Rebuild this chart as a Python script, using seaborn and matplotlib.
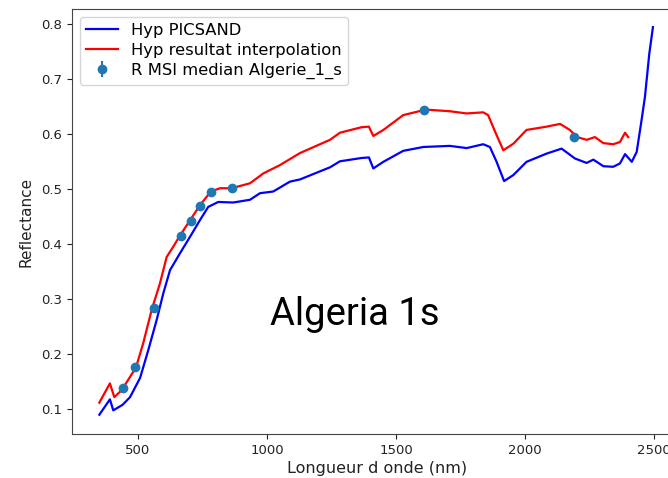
import numpy as np
import pandas as pd
import matplotlib
matplotlib.use("Agg")
import matplotlib.pyplot as plt
import seaborn as sns

# Hyperspectral reflectance, PICSAND reference spectrum
wl_picsand = [350, 391, 404, 440, 469, 508, 540, 572, 598, 624, 663, 702, 740,
              772, 811, 869, 934, 973, 1024, 1089, 1128, 1244, 1283, 1367, 1395,
              1412, 1451, 1528, 1606, 1709, 1774, 1838, 1864, 1890, 1919, 1955,
              2006, 2084, 2142, 2194, 2239, 2265, 2304, 2342, 2368, 2388, 2414,
              2433, 2452, 2465, 2482, 2496]
refl_picsand = [0.090, 0.118, 0.098, 0.108, 0.122, 0.157, 0.208, 0.262, 0.311,
                0.353, 0.384, 0.414, 0.444, 0.468, 0.477, 0.476, 0.481, 0.493,
                0.496, 0.514, 0.518, 0.540, 0.551, 0.557, 0.558, 0.538, 0.550,
                0.570, 0.577, 0.579, 0.575, 0.582, 0.577, 0.550, 0.515, 0.526,
                0.550, 0.565, 0.574, 0.556, 0.548, 0.554, 0.542, 0.541, 0.547,
                0.564, 0.550, 0.568, 0.626, 0.668, 0.747, 0.795]

# Hyperspectral reflectance after interpolation
wl_interp = [350, 391, 408, 437, 492, 520, 553, 585, 611, 637, 660, 702, 740,
             782, 818, 863, 934, 986, 1050, 1128, 1244, 1283, 1367, 1395, 1412,
             1451, 1528, 1616, 1709, 1774, 1838, 1857, 1884, 1916, 1955, 2006,
             2084, 2136, 2174, 2202, 2239, 2271, 2304, 2342, 2368, 2388, 2400]
refl_interp = [0.112, 0.147, 0.122, 0.135, 0.176, 0.220, 0.281, 0.329, 0.377,
               0.396, 0.414, 0.444, 0.471, 0.496, 0.502, 0.502, 0.511, 0.529,
               0.544, 0.566, 0.590, 0.603, 0.613, 0.614, 0.597, 0.608, 0.635,
               0.645, 0.642, 0.638, 0.640, 0.635, 0.605, 0.571, 0.583, 0.608,
               0.614, 0.619, 0.608, 0.595, 0.590, 0.595, 0.584, 0.582, 0.586,
               0.603, 0.595]

# Sentinel-2 MSI band medians
msi_wl = [443, 490, 560, 665, 705, 740, 783, 865, 1610, 2190]
msi_refl = [0.138, 0.176, 0.285, 0.415, 0.443, 0.470, 0.496, 0.502, 0.645, 0.595]
msi_err = [0.002] * len(msi_wl)

df_p = pd.DataFrame({"wl": wl_picsand, "r": refl_picsand})
df_i = pd.DataFrame({"wl": wl_interp, "r": refl_interp})

plt.rcParams["font.family"] = ["DejaVu Sans"]
fig = plt.figure(figsize=(6.68, 4.78), dpi=100)
ax = fig.add_axes([0.1072, 0.0921, 0.9133, 0.8891])

sns.lineplot(data=df_p, x="wl", y="r", color="blue", linewidth=1.6,
             label="Hyp PICSAND", ax=ax)
sns.lineplot(data=df_i, x="wl", y="r", color="red", linewidth=1.6,
             label="Hyp resultat interpolation", ax=ax)
ax.errorbar(msi_wl, msi_refl, yerr=msi_err, fmt="o", color="#1f77b4",
            markersize=6, label="R MSI median Algerie_1_s", zorder=3)

ax.set_xlim(242.5, 2607.5)
ax.set_ylim(0.055, 0.828)
ax.set_xticks([500, 1000, 1500, 2000, 2500])
ax.set_yticks([0.1, 0.2, 0.3, 0.4, 0.5, 0.6, 0.7, 0.8])
ax.tick_params(labelsize=9.5, colors="#222222")
ax.set_xlabel("Longueur d onde (nm)", fontsize=11.5, color="#222222", labelpad=3)
ax.set_ylabel("Reflectance", fontsize=11, color="#222222", labelpad=5)
for s in ax.spines.values():
    s.set_color("#444444")

ax.legend(loc="upper left", fontsize=11.8, labelspacing=0.3, borderpad=0.35,
          handlelength=2.0, framealpha=0.8)

fig.text(355 / 668, (478 - 325) / 478, "Algeria 1s", fontsize=27.5,
         family=["Roboto", "DejaVu Sans"],
         ha="center", va="baseline", color="black")

fig.savefig("out.png", dpi=100)
